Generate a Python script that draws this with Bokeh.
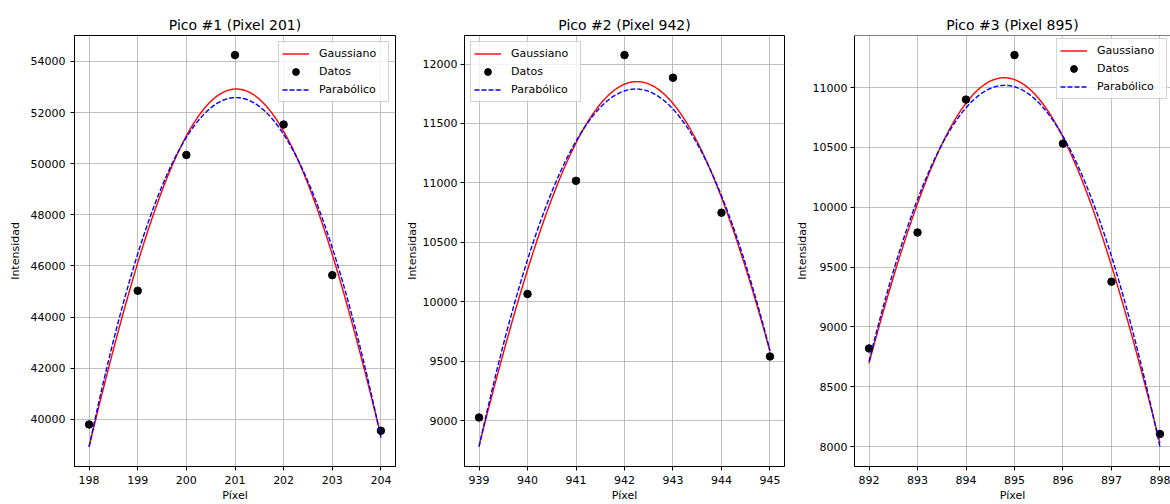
import numpy as np
from bokeh.plotting import figure
from bokeh.layouts import row
from bokeh.models import Range1d, SingleIntervalTicker, Legend, LegendItem, Span
from bokeh.embed import file_html
from bokeh.resources import INLINE

# ---------------- data ----------------
titles = ["Pico #1 (Pixel 201)", "Pico #2 (Pixel 942)", "Pico #3 (Pixel 895)"]
pix1 = [198, 199, 200, 201, 202, 203, 204]
int1 = [39805, 45032, 50341, 54245, 51532, 45643, 39560]
pix2 = [939, 940, 941, 942, 943, 944, 945]
int2 = [9028, 10066, 11018, 12075, 11885, 10750, 9541]
pix3 = [892, 893, 894, 895, 896, 897, 898]
int3 = [8820, 9789, 10900, 11272, 10532, 9378, 8105]
y_tick_step = [2000, 500, 500]
legend_side = ["top_right", "top_left", "top_right"]
legend_labels = ["Gaussiano", "Datos", "Parabólico"]
x_label = "Píxel"
y_label = "Intensidad"

FONT = "DejaVu Sans"


def gauss_model(p, u):
    return p[0] * np.exp(-(u - p[1]) ** 2 / (2 * p[2] ** 2))


def fit_gauss(x, y):
    x = np.asarray(x, float)
    y = np.asarray(y, float)
    x0 = x.mean()
    u = x - x0
    c2, c1, c0 = np.polyfit(u, np.log(y), 2)
    s2 = -1.0 / (2 * c2)
    mu = c1 * s2
    A = np.exp(c0 + mu ** 2 / (2 * s2))
    p = np.array([A, mu, np.sqrt(s2)])
    lam = 1e-3
    for _ in range(300):
        A_, m, s = p
        e = np.exp(-(u - m) ** 2 / (2 * s ** 2))
        r = y - A_ * e
        J = np.column_stack([e, A_ * e * (u - m) / s ** 2, A_ * e * (u - m) ** 2 / s ** 3])
        JTJ = J.T @ J
        g = J.T @ r
        step = np.linalg.solve(JTJ + lam * np.diag(np.diag(JTJ)), g)
        pn = p + step
        if np.sum((y - gauss_model(pn, u)) ** 2) < np.sum(r ** 2):
            p = pn
            lam *= 0.3
        else:
            lam *= 10
    return lambda xx: gauss_model(p, np.asarray(xx, float) - x0)


def make_panel(i, x, y, width, left, right, tick_standoff, label_standoff, visible=1.0):
    x = np.asarray(x, float)
    y = np.asarray(y, float)
    xc = np.linspace(x[0], x[-1], 300)
    g = fit_gauss(x, y)(xc)
    coef = np.polyfit(x - x.mean(), y, 2)
    pa = np.polyval(coef, xc - x.mean())

    allv = np.concatenate([y, g, pa])
    lo, hi = allv.min(), allv.max()
    ypad = 0.05 * (hi - lo)
    xpad = 0.05 * (x[-1] - x[0])
    xs = x[0] - xpad
    xe = xs + (x[-1] - x[0] + 2 * xpad) * visible

    p = figure(width=width, height=504, x_range=Range1d(xs, xe),
               y_range=Range1d(lo - ypad, hi + ypad),
               output_backend="svg", toolbar_location=None,
               min_border_left=left, min_border_right=right,
               min_border_top=35, min_border_bottom=36,
               title=titles[i])
    p.background_fill_color = "white"
    p.border_fill_color = "white"
    p.title.text_font = FONT
    p.title.text_font_size = "14px"
    p.title.text_font_style = "normal"
    p.title.text_color = "black"
    p.title.align = "center"
    p.title.standoff = 6

    if visible < 1.0:
        p.outline_line_color = None
        p.add_layout(Span(location=hi + ypad, dimension="width",
                          line_color="black", line_width=1))
    else:
        p.outline_line_color = "black"
        p.outline_line_width = 1

    for ax in (p.xaxis[0], p.yaxis[0]):
        ax.axis_line_color = "black"
        ax.major_tick_line_color = "black"
        ax.major_tick_in = 0
        ax.major_tick_out = 4
        ax.minor_tick_line_color = None
        ax.major_label_text_font = FONT
        ax.major_label_text_font_size = "11px"
        ax.major_label_text_color = "black"
        ax.axis_label_text_font = FONT
        ax.axis_label_text_font_size = "11px"
        ax.axis_label_text_font_style = "normal"
        ax.axis_label_text_color = "black"
    p.xaxis.ticker = SingleIntervalTicker(interval=1, num_minor_ticks=0)
    p.yaxis.ticker = SingleIntervalTicker(interval=y_tick_step[i], num_minor_ticks=0)
    p.xaxis.axis_label = x_label
    p.yaxis.axis_label = y_label
    p.xaxis.axis_label_standoff = 2
    p.yaxis.major_label_standoff = tick_standoff
    p.yaxis.axis_label_standoff = label_standoff

    for grid in (p.xgrid, p.ygrid):
        grid.grid_line_color = "#b0b0b0"
        grid.grid_line_alpha = 0.8
        grid.grid_line_width = 1

    rg = p.line(xc, g, line_color="#ff0000", line_width=1.4)
    rd = p.scatter(x, y, size=7.5, fill_color="black", line_color="black")
    rp = p.line(xc, pa, line_color="#0000ff", line_width=1.4, line_dash="5 2")

    legend = Legend(items=[LegendItem(label=legend_labels[0], renderers=[rg]),
                           LegendItem(label=legend_labels[1], renderers=[rd]),
                           LegendItem(label=legend_labels[2], renderers=[rp])],
                    location=legend_side[i],
                    margin=3 if visible < 1.0 else 6,
                    padding=3, spacing=1,
                    glyph_height=17, label_height=17, glyph_width=27,
                    label_standoff=10, label_width=66,
                    label_text_font=FONT, label_text_font_size="11px",
                    label_text_color="black",
                    border_line_color="#cccccc", border_line_alpha=0.9,
                    background_fill_color="white", background_fill_alpha=0.8)
    p.add_layout(legend)
    return p


p1 = make_panel(0, pix1, int1, 396, 74, 1, 5, 6)
p2 = make_panel(1, pix2, int2, 390, 68, 2, 3, 1)
p3 = make_panel(2, pix3, int3, 384, 68, 0, 3, 1, visible=316 / 320)

layout = row(p1, p2, p3)
open("out.html", "w").write(file_html(layout, INLINE))
